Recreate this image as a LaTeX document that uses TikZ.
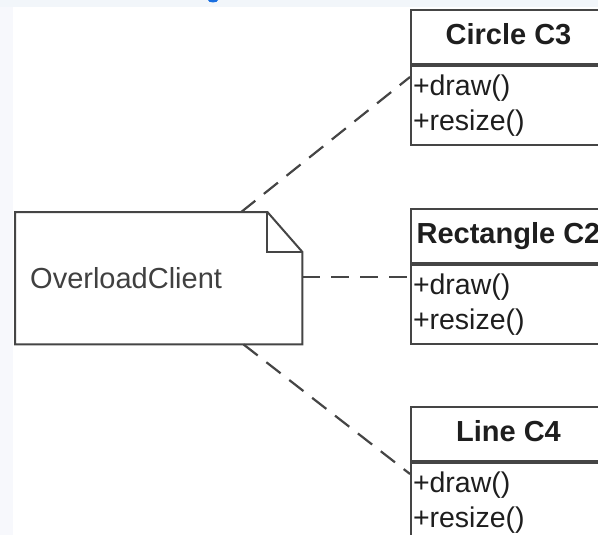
\documentclass[tikz,border=0pt]{standalone}
\usepackage{fontspec}
\setmainfont{Liberation Sans}
\definecolor{bgTop}{HTML}{F2F6FA}
\definecolor{bgLeft}{HTML}{F7F8FC}
\definecolor{lineC}{HTML}{454545}
\definecolor{txtC}{HTML}{1E1E1E}
\definecolor{linkBlue}{HTML}{1A6FE0}
\tikzset{
  classtitle/.style={draw=lineC, line width=2pt, fill=white, minimum width=195pt, minimum height=54pt,
    inner xsep=0pt, anchor=north west, text=txtC, text height=21pt, text depth=6pt,
    font=\fontsize{29}{34}\selectfont\bfseries},
  classbody/.style={draw=lineC, line width=2pt, fill=white, minimum width=195pt, minimum height=79pt,
    anchor=north west, text width=191pt, inner xsep=2pt, align=left, text=txtC,
    font=\fontsize{28.5}{35}\selectfont},
  notebox/.style={minimum width=287pt, minimum height=132pt, anchor=north west, text width=257pt,
    inner xsep=15pt, align=left, text=txtC!85, font=\fontsize{29}{34}\selectfont},
  link/.style={draw=lineC, line width=2.2pt, dash pattern=on 18pt off 11pt}
}
\begin{document}
\begin{tikzpicture}[x=1pt,y=-1pt]
\useasboundingbox (0,0) rectangle (598,535);
\clip (0,0) rectangle (598,535);
\fill[bgLeft] (0,0) rectangle (598,535);
\fill[bgTop] (0,0) rectangle (598,7);
\fill[white] (13,7) rectangle (598,535);
\fill[linkBlue] (213,0) ellipse (5pt and 2.5pt);

% note
\node[notebox] (note) at (15,212) {OverloadClient};
\draw[draw=lineC, line width=2pt, line join=miter]
  (note.north west) -- ([xshift=-35pt]note.north east) -- ([yshift=-40pt]note.north east)
  -- (note.south east) -- (note.south west) -- cycle;
\draw[draw=lineC, line width=2pt]
  ([xshift=-35pt]note.north east) |- ([yshift=-40pt]note.north east);

% classes
\node[classtitle] (c3) at (410,9) {Circle C3};
\node[classbody] (c3m) at (c3.south west) {+draw()\\+resize()};
\node[classtitle] (c2) at (410,208) {Rectangle C2};
\node[classbody] (c2m) at (c2.south west) {+draw()\\+resize()};
\node[classtitle] (c4) at (410,406) {Line C4};
\node[classbody] (c4m) at (c4.south west) {+draw()\\+resize()};

\coordinate (c3in) at ([yshift=-12pt]c3m.north west);
\coordinate (c2in) at ([yshift=-13pt]c2m.north west);
\coordinate (c4in) at ([yshift=-12pt]c4m.north west);

\draw[link] (note) -- (c3in);
\draw[link] (note.east |- c2in) -- (c2in);
\draw[link] (note) -- (c4in);
\end{tikzpicture}
\end{document}
